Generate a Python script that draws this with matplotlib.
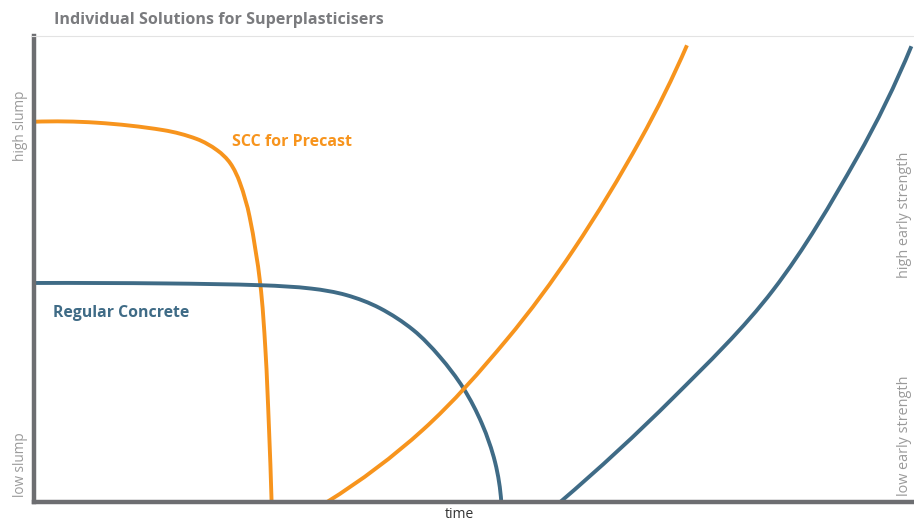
import matplotlib
matplotlib.use("Agg")
import matplotlib.pyplot as plt
from matplotlib.lines import Line2D
from matplotlib.path import Path
from matplotlib.patches import PathPatch

W, H = 914, 520
AX_L, AX_R, AX_T, AX_B = 34, 914, 36, 502

title = "Individual Solutions for Superplasticisers"
x_label = "time"
left_labels = ["high slump", "low slump"]
right_labels = ["high early strength", "low early strength"]
series_names = ["SCC for Precast", "Regular Concrete"]

# values (x: time 0-100, y: 0-100)
scc_slump_x = [0.0, 7.1, 14.7, 18.5, 20.8, 22.3, 23.4, 24.5, 25.7, 26.3, 26.7, 27.0]
scc_slump_y = [81.6, 81.4, 79.8, 77.9, 75.5, 72.7, 68.5, 61.2, 47.0, 32.6, 16.0, 0.0]

reg_slump_x = [0.0, 15.0, 26.0, 31.5, 35.5, 39.3, 43.1, 46.1, 48.8, 50.9, 52.4, 53.1]
reg_slump_y = [47.0, 46.9, 46.5, 45.8, 44.4, 41.6, 36.9, 31.2, 24.4, 16.8, 8.5, 0.0]

scc_str_x = [33.3, 44.2, 53.7, 61.3, 68.9, 74.2]
scc_str_y = [0.0, 15.5, 34.8, 54.1, 77.7, 98.0]

reg_str_x = [59.8, 72.6, 84.0, 93.5, 99.7]
reg_str_y = [0.0, 22.3, 45.5, 73.8, 97.8]

ORANGE = "#F7941D"
BLUE = "#3F6B86"
GRAY = "#6D6E71"
TXT = "#7A7B7E"
SIDE = "#9A9A9A"


def smooth_path(ax, xs, ys):
    """Smooth cubic Bezier curve through the points (tangents in pixel space)."""
    pts = [tuple(ax.transData.transform((x, y))) for x, y in zip(xs, ys)]
    n = len(pts)

    def dist(a, b):
        return ((a[0] - b[0]) ** 2 + (a[1] - b[1]) ** 2) ** 0.5

    def unit(a, b):
        d = dist(a, b) or 1.0
        return ((b[0] - a[0]) / d, (b[1] - a[1]) / d)

    def norm(v):
        d = (v[0] ** 2 + v[1] ** 2) ** 0.5 or 1.0
        return (v[0] / d, v[1] / d)

    tangents = [None] * n
    for i in range(1, n - 1):
        tangents[i] = unit(pts[i - 1], pts[i + 1])
    if n > 2:
        c0 = unit(pts[0], pts[1])
        tangents[0] = norm((2 * c0[0] - tangents[1][0], 2 * c0[1] - tangents[1][1]))
        cn = unit(pts[-2], pts[-1])
        tangents[-1] = norm((2 * cn[0] - tangents[-2][0], 2 * cn[1] - tangents[-2][1]))
    else:
        tangents[0] = tangents[-1] = unit(pts[0], pts[1])
    verts = [pts[0]]
    codes = [Path.MOVETO]
    for i in range(n - 1):
        p1, p2 = pts[i], pts[i + 1]
        L = dist(p1, p2) / 3.0
        c1 = (p1[0] + tangents[i][0] * L, p1[1] + tangents[i][1] * L)
        c2 = (p2[0] - tangents[i + 1][0] * L, p2[1] - tangents[i + 1][1] * L)
        verts += [c1, c2, p2]
        codes += [Path.CURVE4] * 3
    inv = ax.transData.inverted()
    return Path([tuple(inv.transform(v)) for v in verts], codes)


fig = plt.figure(figsize=(W / 100, H / 100), dpi=100)
ax = fig.add_axes([AX_L / W, (H - AX_B) / H, (AX_R - AX_L) / W, (AX_B - AX_T) / H])
ax.set_xlim(0, 100)
ax.set_ylim(0, 100)

lw = 2.8
for xs, ys, c in [(scc_slump_x, scc_slump_y, ORANGE),
                  (reg_slump_x, reg_slump_y, BLUE),
                  (scc_str_x, scc_str_y, ORANGE),
                  (reg_str_x, reg_str_y, BLUE)]:
    patch = PathPatch(smooth_path(ax, xs, ys), facecolor="none", edgecolor=c, lw=lw,
                      capstyle="butt", clip_on=False)
    ax.add_patch(patch)

for s in ["top", "right"]:
    ax.spines[s].set_visible(False)
for s in ["left", "bottom"]:
    ax.spines[s].set_color(GRAY)
    ax.spines[s].set_linewidth(3.2)
    ax.spines[s].set_zorder(5)
ax.set_xticks([])
ax.set_yticks([])

# thin top frame line
fig.add_artist(Line2D([32 / W, 1.0], [(H - 36) / H] * 2, color="#E3E3E3", lw=0.8))


def fx(px):
    return px / W


def fy(py):
    return (H - py) / H


fig.text(fx(54), fy(20), title, fontsize=11.6, fontweight="bold", color=TXT,
         ha="left", va="center", family="Open Sans")
fig.text(fx(459), fy(514), x_label, fontsize=10, color="#333333", ha="center", va="center",
         family="Open Sans")
fig.text(fx(20), fy(126), left_labels[0], fontsize=9.8, color=SIDE, rotation=90,
         ha="center", va="center", family="Open Sans")
fig.text(fx(20), fy(465), left_labels[1], fontsize=9.8, color=SIDE, rotation=90,
         ha="center", va="center", family="Open Sans")
fig.text(fx(905), fy(215), right_labels[0], fontsize=10.4, color=SIDE, rotation=90,
         ha="center", va="center", family="Open Sans")
fig.text(fx(905), fy(436), right_labels[1], fontsize=10.4, color=SIDE, rotation=90,
         ha="center", va="center", family="Open Sans")

fig.text(fx(232), fy(142), series_names[0], fontsize=11.5, fontweight="bold", color=ORANGE,
         ha="left", va="center", family="Open Sans")
fig.text(fx(53), fy(313), series_names[1], fontsize=11.4, fontweight="bold", color=BLUE,
         ha="left", va="center", family="Open Sans")

fig.savefig("out.png", dpi=100)
